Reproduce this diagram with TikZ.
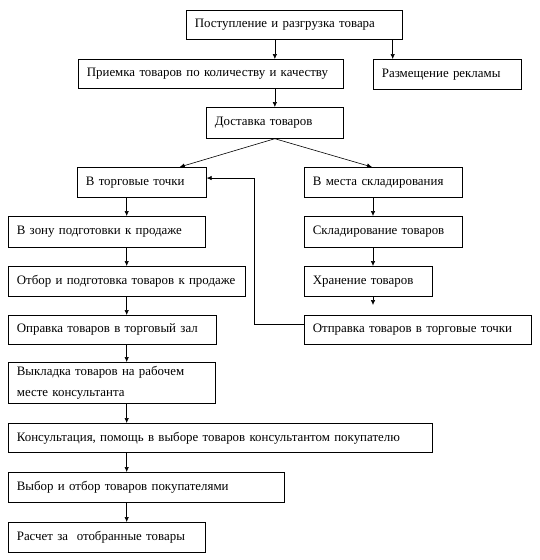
\documentclass[tikz,border=0pt]{standalone}
\usepackage{fontspec}
\setmainfont{Liberation Serif}
\usetikzlibrary{arrows.meta}
\begin{document}
\begin{tikzpicture}[x=1pt, y=-1pt,
    blok/.style={draw, line width=0.7pt, anchor=north west, align=left,
      inner xsep=8.5pt, inner ysep=0pt, font=\fontsize{12.9}{21}\selectfont},
    strelka/.style={line width=0.6pt, -{Latex[length=5pt, width=4.5pt]}}]
  \useasboundingbox (0,0) rectangle (539,560);
  % boxes
  \node[blok, text width=199pt, minimum height=29pt] (postup) at (186,10) {Поступление и разгрузка товара};
  \node[blok, text width=248pt, minimum height=29pt] (priemka) at (78,59) {Приемка товаров по количеству и качеству};
  \node[blok, text width=131pt, minimum height=30pt] (reklama) at (373,59) {Размещение рекламы};
  \node[blok, text width=120pt, minimum height=31pt] (dostavka) at (206,107) {Доставка товаров};
  \node[blok, text width=112pt, minimum height=30pt] (torg) at (77,167) {В торговые точки};
  \node[blok, text width=141pt, minimum height=30pt] (mesta) at (304,167) {В места складирования};
  \node[blok, text width=180pt, minimum height=31pt] (zona) at (8,216) {В зону подготовки к продаже};
  \node[blok, text width=141pt, minimum height=31pt] (sklad) at (304,216) {Складирование товаров};
  \node[blok, text width=220pt, minimum height=30pt] (otbor) at (8,266) {\mbox{Отбор и подготовка товаров к продаже}};
  \node[blok, text width=111pt, minimum height=30pt] (hranen) at (304,266) {Хранение товаров};
  \node[blok, text width=191pt, minimum height=29pt] (zal) at (8,315) {Оправка товаров в торговый зал};
  \node[blok, text width=210pt, minimum height=29pt] (otpravka) at (304,315) {Отправка товаров в торговые точки};
  \node[blok, text width=190pt, minimum height=41pt] (vykladka) at (8,362) {Выкладка товаров на рабочем\\месте консультанта};
  \node[blok, text width=407pt, minimum height=29pt] (konsult) at (8,423) {Консультация, помощь в выборе товаров консультантом покупателю};
  \node[blok, text width=259pt, minimum height=30pt] (vybor) at (8,472) {Выбор и отбор товаров покупателями};
  \node[blok, text width=180pt, minimum height=30pt] (raschet) at (8,522) {Расчет за~ отобранные товары};
  % columns of arrows
  \coordinate (lx) at (126.7,0);
  \coordinate (rx) at (373,0);
  \coordinate (fb) at (254,0);
  \coordinate (rk) at ([xshift=-10pt]postup.south east);
  % arrows
  \draw[strelka] (postup.south -| dostavka.north) -- (priemka.north -| dostavka.north);
  \draw[strelka] (rk) -- (rk |- reklama.north);
  \draw[strelka] (priemka.south -| dostavka.north) -- (dostavka.north);
  \draw[strelka] (dostavka.south) -- ([xshift=-27pt]torg.north east);
  \draw[strelka] (dostavka.south) -- ([xshift=68pt]mesta.north west);
  \foreach \a/\b in {torg/zona, zona/otbor, otbor/zal, zal/vykladka,
      vykladka/konsult, konsult/vybor, vybor/raschet}
    \draw[strelka] (\a.south -| lx) -- (\b.north -| lx);
  \draw[strelka] (mesta.south -| rx) -- (sklad.north -| rx);
  \draw[strelka] (sklad.south -| rx) -- (hranen.north -| rx);
  \draw[strelka, shorten >=10pt] (hranen.south -| rx) -- (otpravka.north -| rx);
  \draw[strelka] ([yshift=5.5pt]otpravka.west) -- ([yshift=5.5pt]otpravka.west -| fb)
    |- ([yshift=4.3pt]torg.east);
\end{tikzpicture}
\end{document}
